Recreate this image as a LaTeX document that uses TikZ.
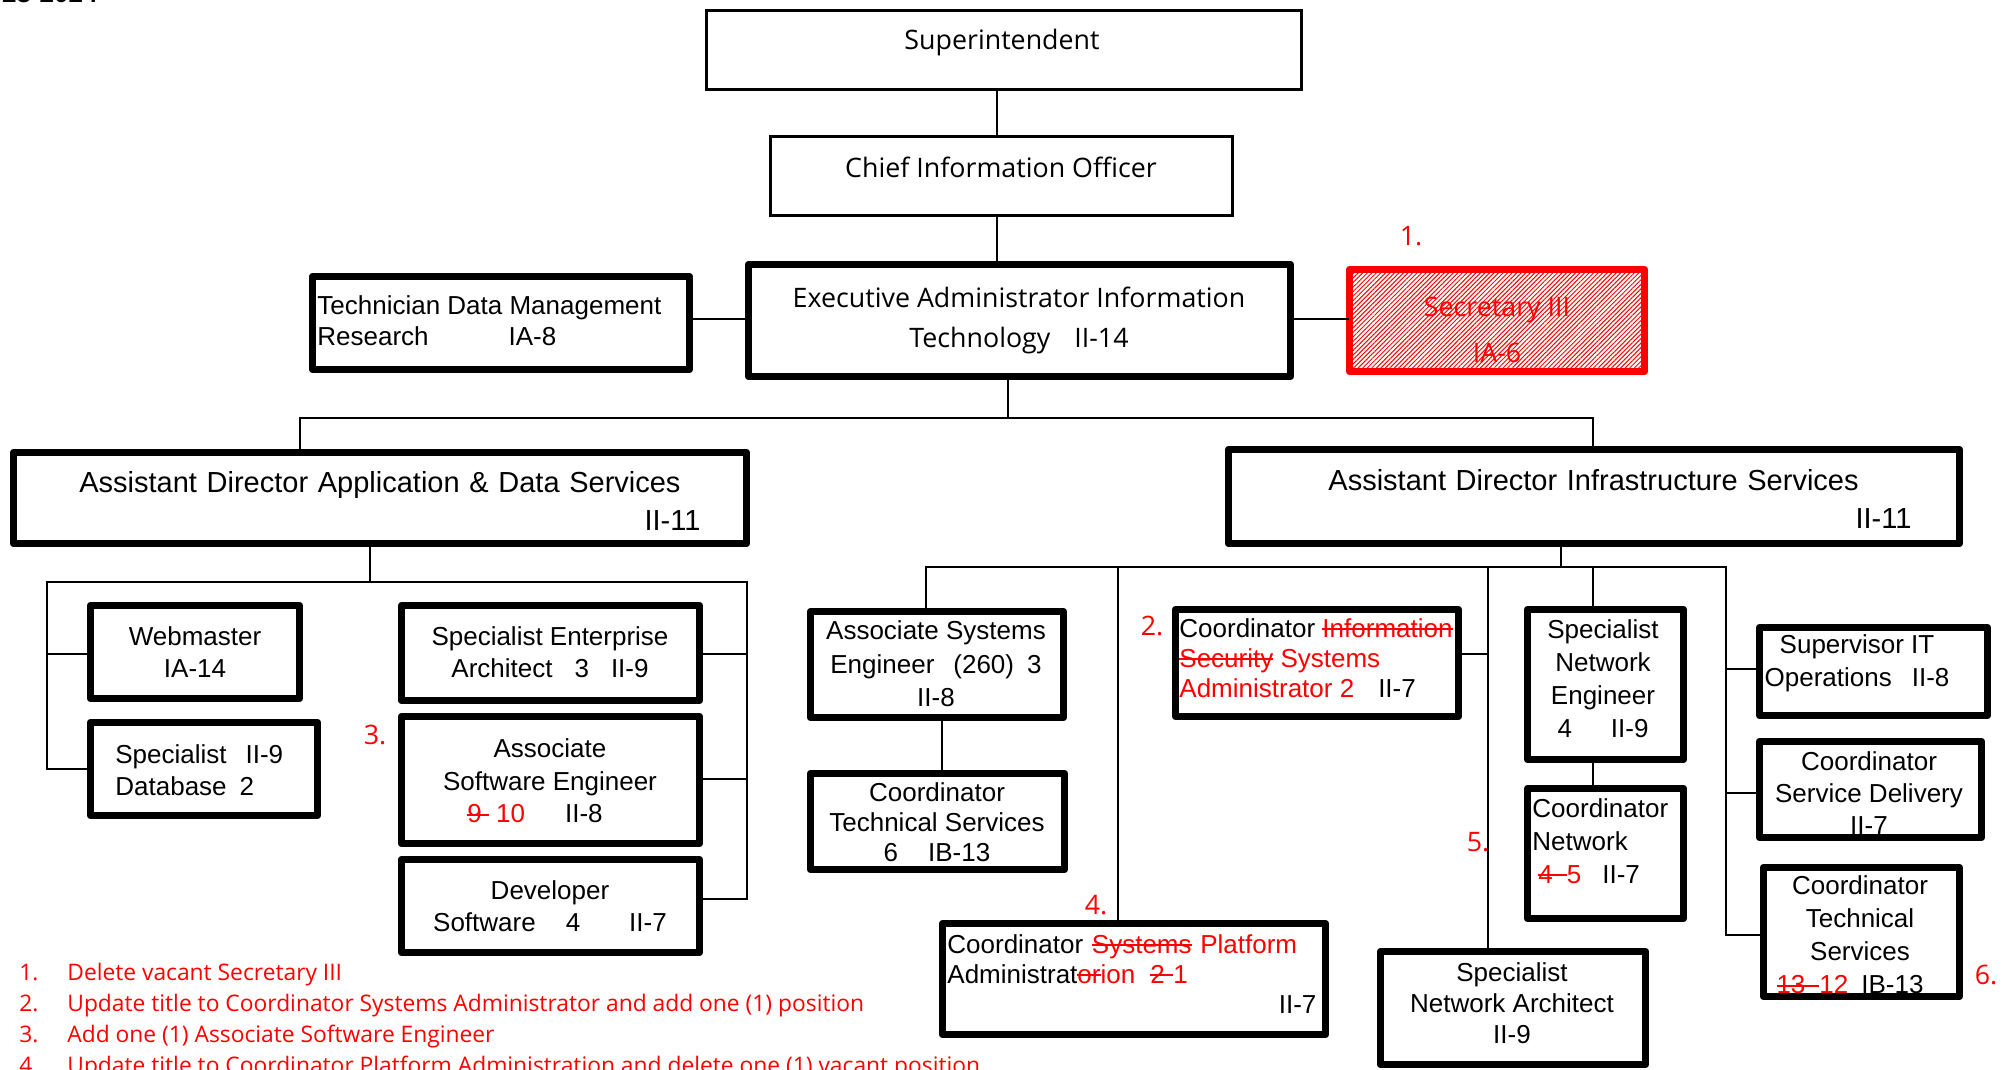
\documentclass[tikz,border=0pt]{standalone}
\usepackage{fontspec}
\setmainfont{Liberation Sans}
\newfontfamily\segoe{Open Sans}
\usetikzlibrary{patterns.meta}
% red struck-out text
\newcommand{\struck}[1]{{\color{red}\setbox0\hbox{#1}\rlap{\rule[0.27em]{\wd0}{0.08em}}\box0}}
\newcommand{\added}[1]{\textcolor{red}{#1}}
% box by its outer corners (left, top, right, bottom)
\newcommand{\orgBox}[6][thickBox]{%
  \node[#1, minimum width={(#5-#3-7)*0.5pt}, minimum height={(#6-#4-7)*0.5pt}] (#2) at ({(#3+#5)/2},{(#4+#6)/2}) {};
}
\begin{document}
\begin{tikzpicture}[x=0.5pt, y=-0.5pt,
  thickBox/.style={draw, line width=3.7pt, line join=round},
  thinBox/.style={draw, line width=1.75pt},
  secBox/.style={draw=red, line width=3.7pt, line join=round,
    pattern={Lines[angle=45,distance=1.6pt,line width=0.5pt]}, pattern color=red},
  conn/.style={line width=0.7pt},
  boxText/.style={font=\fontsize{13}{#1}\selectfont, align=center, inner sep=0pt},
  boxText/.default=16.3,
  adText/.style={font=\fontsize{14.5}{18.7}\selectfont, align=left, anchor=west, inner sep=0pt},
  segText/.style={font=\segoe\fontsize{13.4}{#1}\selectfont, align=center, inner sep=0pt},
  segText/.default=16,
  redMark/.style={font=\segoe\fontsize{13.4}{16}\selectfont, text=red, inner sep=0pt},
  noteText/.style={font=\segoe\fontsize{11.4}{14}\selectfont, text=red, inner sep=0pt, anchor=base west}
]
\useasboundingbox (0,0) rectangle (2007,1070);
%
\node[font=\bfseries\fontsize{13}{13}\selectfont, anchor=base east, inner sep=0pt] (yearT) at (98,3) {2023-2024};
%
% texts that run into the border of their box
\node[boxText=16] (coordSdT) at (1869,793) {Coordinator\\Service Delivery\\II-7};
\node[boxText=16.5] (coordTsRT) at (1860,935) {Coordinator\\Technical\\Services\\\struck{13\hspace{7pt}}\added{12}\hspace{6.5pt}IB-13\hspace*{10pt}};
%
% The boxes.
\orgBox[thinBox]{sup}{703}{7}{1305}{93}
\orgBox[thinBox]{cio}{767}{133}{1236}{219}
\orgBox{exec}{745}{261}{1294}{380}
\orgBox{tech}{309}{273}{693}{373}
\orgBox[secBox]{sec}{1346}{266}{1648}{375}
\orgBox{adApp}{10}{449}{750}{547}
\orgBox{adInf}{1225}{446}{1963}{547}
\orgBox{web}{87}{602}{303}{702}
\orgBox{specDb}{87}{719}{321}{819}
\orgBox{entArch}{398}{602}{703}{704}
\orgBox{assocSe}{398}{713}{703}{847}
\orgBox{devSw}{398}{856}{703}{956}
\orgBox{assocSys}{807}{608}{1067}{721}
\orgBox{coordTs}{807}{770}{1068}{873}
\orgBox{coordSa}{1172}{606}{1462}{720}
\orgBox{coordPa}{939}{920}{1329}{1038}
\orgBox{specNe}{1524}{606}{1687}{763}
\orgBox{coordNet}{1524}{785}{1687}{922}
\orgBox{specNa}{1377}{948}{1649}{1068}
\orgBox{supOps}{1756}{624}{1991}{719}
\orgBox{coordSd}{1756}{738}{1985}{841}
\orgBox{coordTsR}{1760}{864}{1963}{1000}
%
% The connectors.
\draw[conn] (sup.south -| 997,0) -- (cio.north -| 997,0);
\draw[conn] (cio.south -| 997,0) -- (exec.north -| 997,0);
\draw[conn] (tech.east |- 0,319) -- (exec.west |- 0,319);
\draw[conn] (exec.east |- 0,319) -- (sec.west |- 0,319);
\coordinate (topBus) at (1008,418);
\draw[conn] (exec.south -| topBus) -- (topBus);
\draw[conn] (adApp.north -| 300,0) |- (topBus) -| (adInf.north -| 1593,0);
% application and data services
\coordinate (appBus) at (370,582);
\draw[conn] (adApp.south -| appBus) -- (appBus);
\draw[conn] (web.west |- 0,654) -| (appBus -| 47,0) -- (appBus -| 747,0) |- (devSw.east |- 0,899);
\draw[conn] (specDb.west |- 0,769) -| (47,654);
\draw[conn] (entArch.east |- 0,654) -- (747,654);
\draw[conn] (assocSe.east |- 0,779) -- (747,779);
% infrastructure services
\coordinate (infBus) at (1561,567);
\draw[conn] (adInf.south -| infBus) -- (infBus);
\draw[conn] (assocSys.north -| 926,0) |- (infBus -| 1726,0) |- (coordTsR.west |- 0,935);
\draw[conn] (infBus -| 1118,0) -- (coordPa.north -| 1118,0);
\draw[conn] (infBus -| 1488,0) -- (specNa.north -| 1488,0);
\draw[conn] (coordSa.east |- 0,654) -- (1488,654);
\draw[conn] (infBus -| 1593,0) -- (specNe.north -| 1593,0);
\draw[conn] (specNe.south -| 1593,0) -- (coordNet.north -| 1593,0);
\draw[conn] (assocSys.south -| 942,0) -- (coordTs.north -| 942,0);
\draw[conn] (supOps.west |- 0,669) -- (1726,669);
\draw[conn] (coordSd.west |- 0,793) -- (1726,793);
%
% The box texts.
\node[segText] (supT) at (1002,43) {Superintendent};
\node[segText] (cioT) at (1001,167) {Chief Information Officer};
\node[segText=20] (execT) at (1019,320) {Executive Administrator Information\\Technology\hspace{12pt}II-14};
\node[boxText=15.5, align=left, anchor=west] (techT) at (317,321) {Technician Data Management\\Research\hspace{40pt}IA-8};
\node[segText=23, text=red] (secT) at (1497,330) {Secretary III\\IA-6};
\node[adText, text width=310.5pt] (adAppT) at (79,501) {Assistant Director Application \& Data Services\\\hspace*{\fill}II-11};
\node[adText, text width=291.5pt] (adInfT) at (1328,499) {Assistant Director Infrastructure Services\\\hspace*{\fill}II-11};
\node[boxText] (webT) at (195,652) {Webmaster\\IA-14};
\node[boxText, align=left, anchor=west] (specDbT) at (115,770) {Specialist\hspace{9.5pt}II-9\\Database\hspace{6.5pt}2};
\node[boxText] (entArchT) at (550,652) {Specialist Enterprise\\Architect\hspace{11pt}3\hspace{11pt}II-9};
\node[boxText] (assocSeT) at (550,781) {Associate\\Software Engineer\\\struck{9 } \added{10}\hspace{20pt}II-8\hspace*{15pt}};
\node[boxText] (devSwT) at (550,906) {Developer\\Software\hspace{15pt}4\hspace{24.5pt}II-7};
\node[boxText=16.7] (assocSysT) at (936,664) {Associate Systems\\Engineer\hspace{9.5pt}(260)\hspace{6.5pt}3\\II-8};
\node[boxText=15] (coordTsT) at (937,822) {Coordinator\\Technical Services\\6\hspace{15pt}IB-13};
\node[boxText=15, align=left, anchor=west] (coordSaT) at (1179,658) {Coordinator \struck{Information}\\\struck{Security} \added{Systems}\\\added{Administrator 2}\hspace{12pt}II-7};
\node[boxText=15.2, align=left, anchor=west, text width=184.5pt] (coordPaT) at (947,974) {Coordinator \struck{Systems} \added{Platform}\\Administrat\struck{or}\added{ion}\hspace{7.5pt}\struck{2 }\added{1}\\\hspace*{\fill}II-7};
\node[boxText=16.5] (specNeT) at (1603,679) {Specialist\\Network\\Engineer\\4\hspace{19.5pt}II-9};
\node[boxText=16.5, align=left, anchor=west] (coordNetT) at (1532,841) {Coordinator\\Network\\\hspace*{3pt}\struck{4\hspace{7pt}}\added{5}\hspace{10.5pt}II-7};
\node[boxText=15.5] (specNaT) at (1512,1003) {Specialist\\Network Architect\\II-9};
\node[boxText=16.5] (supOpsT) at (1857,663) {Supervisor IT\\Operations\hspace{10pt}II-8};
%
% Change marks.
\node[redMark] (mark1) at (1411,236) {1.};
\node[redMark] (mark2) at (1152,626) {2.};
\node[redMark] (mark3) at (375,735) {3.};
\node[redMark] (mark4) at (1096,905) {4.};
\node[redMark] (mark5) at (1478,842) {5.};
\node[redMark] (mark6) at (1986,975) {6.};
%
% The list of changes.
\foreach \n/\txt in {1/Delete vacant Secretary III,
    2/Update title to Coordinator Systems Administrator and add one (1) position,
    3/Add one (1) Associate Software Engineer,
    4/Update title to Coordinator Platform Administration and delete one (1) vacant position}{
  \node[noteText] (noteNum\n) at (19,{980+31.3*(\n-1)}) {\n.};
  \node[noteText] (note\n) at (67,{980+31.3*(\n-1)}) {\txt};
}
\end{tikzpicture}
\end{document}
